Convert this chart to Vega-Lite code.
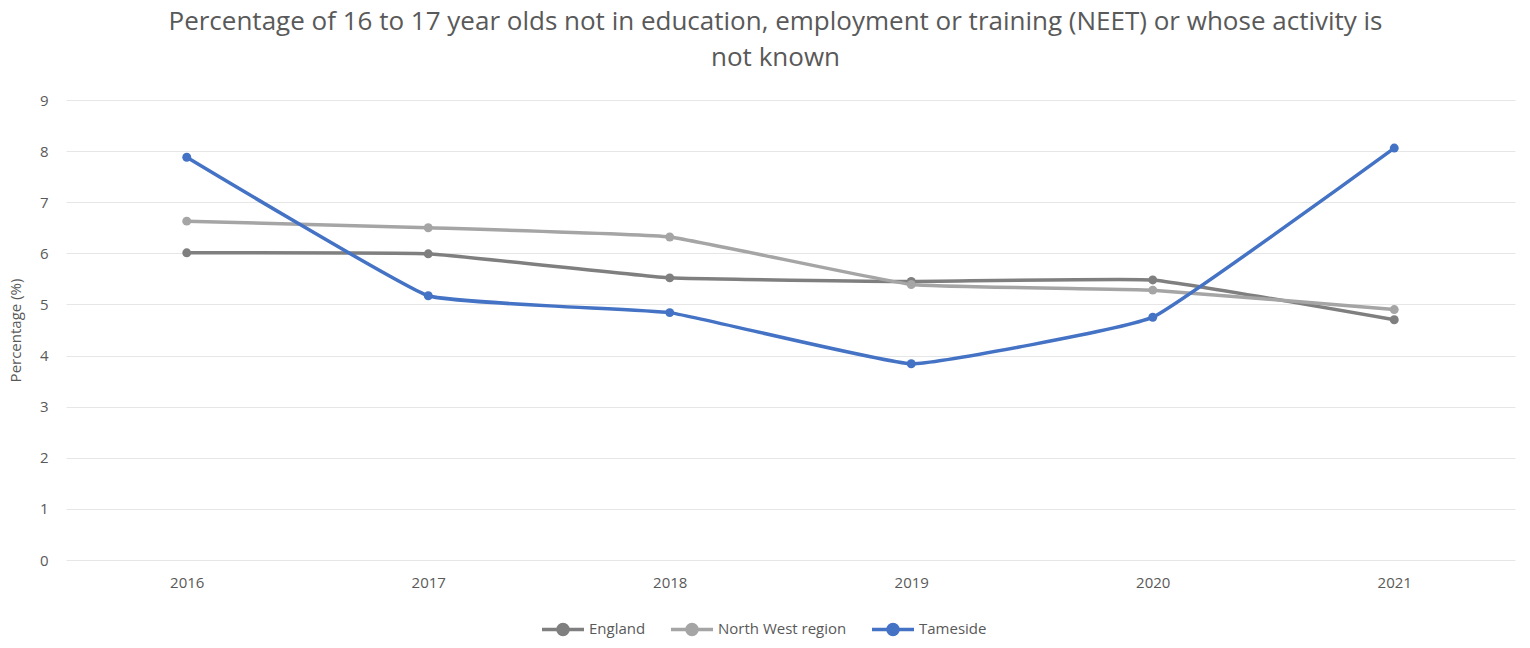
{
  "$schema": "https://vega.github.io/schema/vega-lite/v6.json",
  "width": 1449,
  "height": 460,
  "autosize": {"type": "none"},
  "padding": {"left": 66, "top": 100, "right": 15, "bottom": 88},
  "background": "white",
  "config": {"view": {"stroke": null}},
  "title": {
    "text": ["Percentage of 16 to 17 year olds not in education, employment or training (NEET) or whose activity is", "not known"],
    "font": "Open Sans",
    "fontSize": 26,
    "fontWeight": "normal",
    "color": "#595959",
    "lineHeight": 36,
    "anchor": "middle",
    "dx": -15,
    "offset": 22
  },
  "data": {
    "values": [
      {"year": "2016", "area": "England", "value": 6.01},
      {"year": "2017", "area": "England", "value": 5.99},
      {"year": "2018", "area": "England", "value": 5.52},
      {"year": "2019", "area": "England", "value": 5.45},
      {"year": "2020", "area": "England", "value": 5.48},
      {"year": "2021", "area": "England", "value": 4.70},
      {"year": "2016", "area": "North West region", "value": 6.63},
      {"year": "2017", "area": "North West region", "value": 6.50},
      {"year": "2018", "area": "North West region", "value": 6.32},
      {"year": "2019", "area": "North West region", "value": 5.39},
      {"year": "2020", "area": "North West region", "value": 5.28},
      {"year": "2021", "area": "North West region", "value": 4.90},
      {"year": "2016", "area": "Tameside", "value": 7.88},
      {"year": "2017", "area": "Tameside", "value": 5.17},
      {"year": "2018", "area": "Tameside", "value": 4.84},
      {"year": "2019", "area": "Tameside", "value": 3.84},
      {"year": "2020", "area": "Tameside", "value": 4.75},
      {"year": "2021", "area": "Tameside", "value": 8.06}
    ]
  },
  "mark": {
    "type": "line",
    "strokeWidth": 3.5,
    "interpolate": "cardinal",
    "tension": 0.7,
    "point": {"filled": true, "size": 80}
  },
  "encoding": {
    "x": {
      "field": "year",
      "type": "ordinal",
      "scale": {"type": "point", "padding": 0.5},
      "axis": {
        "title": null,
        "labelAngle": 0,
        "labelFont": "Open Sans",
        "labelFontSize": 15,
        "labelColor": "#595959",
        "labelPadding": 15,
        "domain": false,
        "ticks": false,
        "grid": false
      }
    },
    "y": {
      "field": "value",
      "type": "quantitative",
      "scale": {"domain": [0, 9], "nice": false},
      "axis": {
        "title": "Percentage (%)",
        "titleFont": "Open Sans",
        "titleFontSize": 15,
        "titleFontWeight": "normal",
        "titleColor": "#595959",
        "titlePadding": 16,
        "values": [0, 1, 2, 3, 4, 5, 6, 7, 8, 9],
        "labelFont": "Open Sans",
        "labelFontSize": 15,
        "labelColor": "#595959",
        "labelPadding": 18,
        "domain": false,
        "ticks": false,
        "gridColor": "#e6e6e6",
        "gridWidth": 1
      }
    },
    "color": {
      "field": "area",
      "type": "nominal",
      "scale": {
        "domain": ["England", "North West region", "Tameside"],
        "range": ["#7f7f7f", "#a5a5a5", "#4472c4"]
      },
      "legend": {
        "title": null,
        "orient": "none",
        "direction": "horizontal",
        "legendX": 474,
        "legendY": 506,
        "symbolType": "M-1,0L1,0M-0.24,0A0.24,0.24,0,1,1,0.24,0A0.24,0.24,0,1,1,-0.24,0Z",
        "symbolSize": 1764,
        "symbolStrokeWidth": 3.5,
        "labelFont": "Open Sans",
        "labelFontSize": 15,
        "labelColor": "#595959",
        "labelOffset": 3,
        "columnPadding": 18
      }
    }
  }
}
